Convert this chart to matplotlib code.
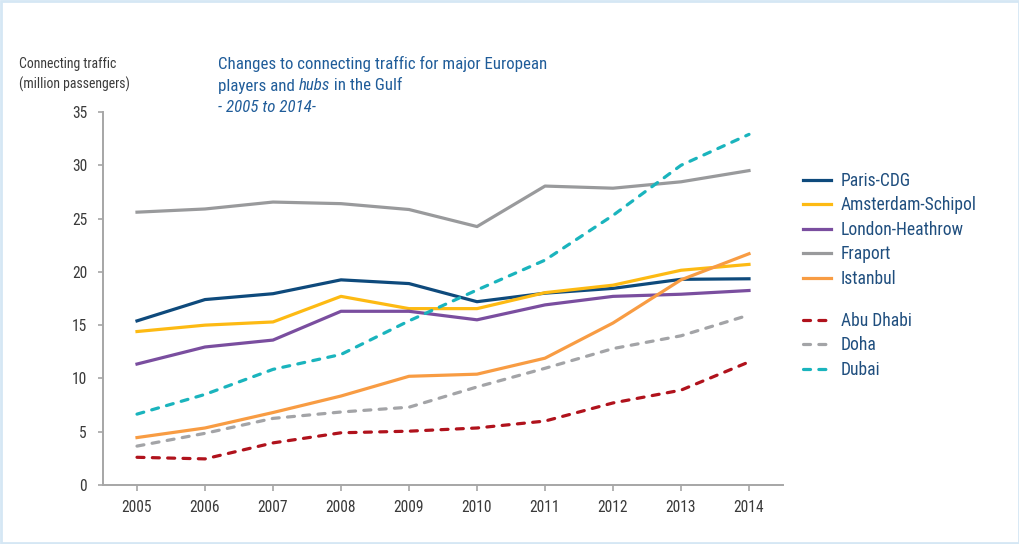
import os
import matplotlib
matplotlib.use("Agg")
import matplotlib.pyplot as plt
from matplotlib import font_manager
from matplotlib.font_manager import FontProperties
from matplotlib.patches import Rectangle

years = [2005, 2006, 2007, 2008, 2009, 2010, 2011, 2012, 2013, 2014]
paris_cdg = [15.4, 17.4, 17.95, 19.25, 18.9, 17.2, 18.0, 18.45, 19.3, 19.35]
amsterdam = [14.4, 15.0, 15.3, 17.7, 16.55, 16.55, 18.05, 18.75, 20.15, 20.7]
london = [11.35, 12.95, 13.6, 16.3, 16.3, 15.5, 16.9, 17.7, 17.9, 18.25]
fraport = [25.6, 25.9, 26.55, 26.4, 25.85, 24.25, 28.05, 27.85, 28.45, 29.5]
istanbul = [4.45, 5.35, 6.8, 8.35, 10.2, 10.4, 11.9, 15.2, 19.25, 21.7]
abu_dhabi = [2.6, 2.45, 3.95, 4.9, 5.05, 5.35, 6.0, 7.7, 8.9, 11.55]
doha = [3.65, 4.85, 6.25, 6.85, 7.3, 9.2, 10.95, 12.8, 14.0, 15.95]
dubai = [6.65, 8.5, 10.85, 12.25, 15.4, 18.3, 21.1, 25.3, 30.0, 32.9]

solid_series = [
    ("Paris-CDG", paris_cdg, "#0E4A7C"),
    ("Amsterdam-Schipol", amsterdam, "#FDBA13"),
    ("London-Heathrow", london, "#7A4E9F"),
    ("Fraport", fraport, "#999A9C"),
    ("Istanbul", istanbul, "#F89C43"),
]
dashed_series = [
    ("Abu Dhabi", abu_dhabi, "#B0121C"),
    ("Doha", doha, "#A3A4A7"),
    ("Dubai", dubai, "#1AB4BD"),
]

# ---- font selection: prefer a narrow / condensed sans ----
files = font_manager.findSystemFonts() + [f.fname for f in font_manager.fontManager.ttflist]
bynm = {}
for f in files:
    bynm.setdefault(os.path.basename(f).lower(), f)

def pick(cands):
    for c in cands:
        if c.lower() in bynm:
            return bynm[c.lower()]
    return None

reg_path = pick(['LiberationSansNarrow-Regular.ttf', 'RobotoCondensed-Regular.ttf',
                 'DejaVuSansCondensed.ttf'])
ita_path = pick(['LiberationSansNarrow-Italic.ttf', 'RobotoCondensed-Italic.ttf',
                 'DejaVuSansCondensed-Oblique.ttf'])

def fp(size, italic=False):
    if italic and ita_path:
        return FontProperties(fname=ita_path, size=size)
    if (not italic) and reg_path:
        return FontProperties(fname=reg_path, size=size)
    return FontProperties(family=['Liberation Sans', 'DejaVu Sans'], size=size,
                          style='italic' if italic else 'normal')

fig = plt.figure(figsize=(10.2, 5.44), dpi=100)
renderer = fig.canvas.get_renderer()

# scale fonts so the title line spans the same width as in the reference
probe = fig.text(0, 0, "Changes to connecting traffic for major European", fontproperties=fp(12.5))
w = probe.get_window_extent(renderer=renderer).width
probe.remove()
S = max(0.75, min(1.15, 329.0 / w))

ax = fig.add_axes([103/1020, 1-485/544, (783-103)/1020, (485-112)/544])

LW = 2.3
solid_handles = []
for name, vals, col in solid_series:
    ln, = ax.plot(years, vals, color=col, lw=LW, solid_joinstyle='round', label=name)
    solid_handles.append(ln)
dashed_handles = []
for name, vals, col in dashed_series:
    ln, = ax.plot(years, vals, color=col, lw=LW, dashes=(2.2, 2.6),
                  dash_capstyle='round', label=name)
    dashed_handles.append(ln)

ax.set_xlim(2004.5, 2014.5)
ax.set_ylim(0, 35)
ax.set_xticks(years)
ax.set_yticks(range(0, 36, 5))
for s in ['top', 'right']:
    ax.spines[s].set_visible(False)
for s in ['left', 'bottom']:
    ax.spines[s].set_color('#A6A6A6')
    ax.spines[s].set_linewidth(1.4)
ax.tick_params(axis='both', colors='#A6A6A6', labelcolor='#3A3A3A', width=1.2)
ax.tick_params(axis='y', length=3.5, pad=8)
ax.tick_params(axis='x', length=4, pad=7)
for lab in ax.get_xticklabels() + ax.get_yticklabels():
    lab.set_fontproperties(fp(11.5 * S))

LS = 13 * S
leg_kw = dict(loc='upper left', frameon=False, prop=fp(LS), handlelength=1.57,
              handletextpad=0.6, labelspacing=0.37, borderpad=0, borderaxespad=0)
leg1 = fig.legend(handles=solid_handles, bbox_to_anchor=(803/1020, 1-172/544), **leg_kw)
leg2 = fig.legend(handles=dashed_handles, bbox_to_anchor=(803/1020, 1-312/544), **leg_kw)
for lg in (leg1, leg2):
    for t in lg.get_texts():
        t.set_color('#1F4E7E')

fig.text(19/1020, 1-64/544, "Connecting traffic", fontproperties=fp(10.2 * S),
         color='#3A3A3A', va='center', ha='left')
fig.text(19/1020, 1-84/544, "(million passengers)", fontproperties=fp(10.2 * S),
         color='#3A3A3A', va='center', ha='left')

TC = '#1F5C99'
TS = 12.5 * S
fig.text(218/1020, 1-64/544, "Changes to connecting traffic for major European",
         fontproperties=fp(TS), color=TC, va='center', ha='left')
x0 = 218/1020
y1 = 1-86/544
parts = [("players and ", False), ("hubs", True), (" in the Gulf", False)]
for txt, it in parts:
    t = fig.text(x0, y1, txt, fontproperties=fp(TS, it), color=TC, va='center', ha='left')
    bb = t.get_window_extent(renderer=renderer)
    x0 += bb.width / 1020
fig.text(218/1020, 1-107/544, "- 2005 to 2014-", fontproperties=fp(TS, True), color=TC,
         va='center', ha='left')

fig.add_artist(Rectangle((0.001, 0.002), 0.998, 0.996, transform=fig.transFigure,
                         fill=False, edgecolor='#D5E7F4', lw=2))

fig.savefig("out.png", dpi=100)
